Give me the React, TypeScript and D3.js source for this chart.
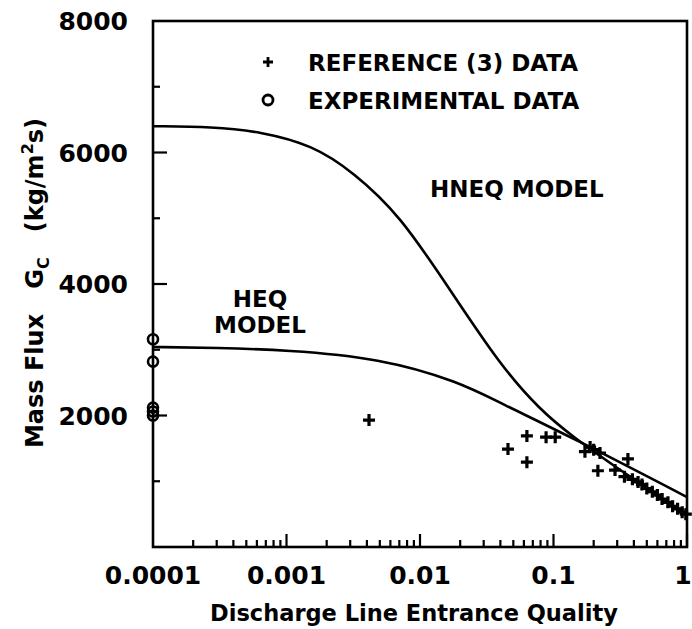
import React from "react";
import * as d3 from "d3";

// HNEQ model curve (quality, mass flux)
const hneqX = [0.0001, 0.00028, 0.00063, 0.00158, 0.00315, 0.00708, 0.0168, 0.0398, 0.0793, 0.14, 0.314, 1];
const hneqY = [6400, 6392, 6320, 6110, 5703, 5049, 3909, 2768, 2084, 1673, 1171, 490];

// HEQ model curve
const heqX = [0.0001, 0.0003, 0.001, 0.005, 0.0199, 0.0398, 0.14, 1];
const heqY = [3042, 3030, 2996, 2874, 2510, 2190, 1660, 760];

// Reference (3) data, plotted as +
const refX = [0.00415, 0.0456, 0.0632, 0.0632, 0.088, 0.103, 0.172, 0.188, 0.2, 0.223, 0.215, 0.289, 0.361, 0.34, 0.39, 0.43, 0.46, 0.5, 0.55, 0.6, 0.65, 0.72, 0.78, 0.85, 0.92, 0.98];
const refY = [1930, 1490, 1690, 1290, 1670, 1670, 1450, 1520, 1480, 1430, 1160, 1170, 1340, 1070, 1030, 990, 950, 890, 840, 790, 730, 680, 620, 580, 530, 500];

// Experimental data, plotted as o
const expX = [0.0001, 0.0001, 0.0001, 0.0001, 0.0001];
const expY = [3160, 2820, 2120, 2060, 2000];

const yTicks = [1000, 2000, 3000, 4000, 5000, 6000, 7000];
const yLabels = [2000, 4000, 6000, 8000];
const xLabels = ["0.0001", "0.001", "0.01", "0.1", "1"];

const W = 692, H = 629;
const left = 153, right = 687, top = 21, bottom = 547;
const font = "'DejaVu Sans', sans-serif";

export default function App() {
  const x = d3.scaleLog().domain([1e-4, 1]).range([left, right]);
  const y = d3.scaleLinear().domain([0, 8000]).range([bottom, top]);

  const line = d3
    .line<[number, number]>()
    .x((d) => x(d[0]))
    .y((d) => y(d[1]))
    .curve(d3.curveBasis);

  const hneq = hneqX.map((v, i) => [v, hneqY[i]] as [number, number]);
  const heq = heqX.map((v, i) => [v, heqY[i]] as [number, number]);

  // minor ticks on the log axis
  const xTicks: { v: number; major: boolean }[] = [];
  for (let e = -4; e < 0; e++) {
    for (let m = 2; m <= 10; m++) {
      xTicks.push({ v: m * Math.pow(10, e), major: m === 10 });
    }
  }

  return (
    <svg width={W} height={H} style={{ position: "absolute", left: 0, top: 0, background: "#fff" }}>
      <g fill="none" stroke="#000">
        <rect x={left} y={top} width={right - left} height={bottom - top} strokeWidth={2.6} />
        {yTicks.map((t) => (
          <line key={t} x1={left} x2={left + (t % 2000 === 0 ? 14 : 7)} y1={y(t)} y2={y(t)} strokeWidth={2.2} />
        ))}
        {xTicks.map((t, i) => (
          <line key={i} x1={x(t.v)} x2={x(t.v)} y1={bottom} y2={bottom - (t.major ? 13 : 7)} strokeWidth={2.2} />
        ))}
        <path d={line(hneq) || ""} strokeWidth={2.6} />
        <path d={line(heq) || ""} strokeWidth={2.6} />
        {refX.map((v, i) => (
          <path key={i} d={`M${x(v) - 6},${y(refY[i])}h12M${x(v)},${y(refY[i]) - 6}v12`} strokeWidth={3.2} />
        ))}
        {expX.map((v, i) => (
          <circle key={i} cx={x(v)} cy={y(expY[i])} r={5} strokeWidth={2.6} />
        ))}
        {/* legend symbols */}
        <path d="M263,62h10M268,57v10" strokeWidth={2.8} />
        <circle cx={268} cy={100} r={5} strokeWidth={2.8} />
      </g>

      <g fontFamily={font} fontWeight="bold" fill="#000">
        {yLabels.map((t) => (
          <text key={t} x={128} y={y(t)} dy="0.36em" textAnchor="end" fontSize={25}>
            {t}
          </text>
        ))}
        {xLabels.map((t) => (
          <text key={t} x={t === "1" ? x(+t) - 4 : x(+t)} y={575} dy="0.36em" textAnchor="middle" fontSize={25}>
            {t}
          </text>
        ))}
        <text x={414} y={621} textAnchor="middle" fontSize={22.5}>
          Discharge Line Entrance Quality
        </text>
        <text transform="translate(43,283) rotate(-90)" textAnchor="middle" fontSize={24}>
          Mass Flux{"\u00a0\u00a0\u00a0"}G
          <tspan fontSize={16} dy={6}>C</tspan>
          <tspan dy={-6}>{"\u00a0\u00a0\u00a0"}(kg/m</tspan>
          <tspan fontSize={16} dy={-10}>2</tspan>
          <tspan dy={10}>s)</tspan>
        </text>
        <text x={308} y={71} fontSize={23}>REFERENCE (3) DATA</text>
        <text x={308} y={109} fontSize={23}>EXPERIMENTAL DATA</text>
        <text x={430} y={197} fontSize={23}>HNEQ MODEL</text>
        <text x={260} y={307} textAnchor="middle" fontSize={23}>HEQ</text>
        <text x={260} y={333} textAnchor="middle" fontSize={23}>MODEL</text>
      </g>
    </svg>
  );
}
